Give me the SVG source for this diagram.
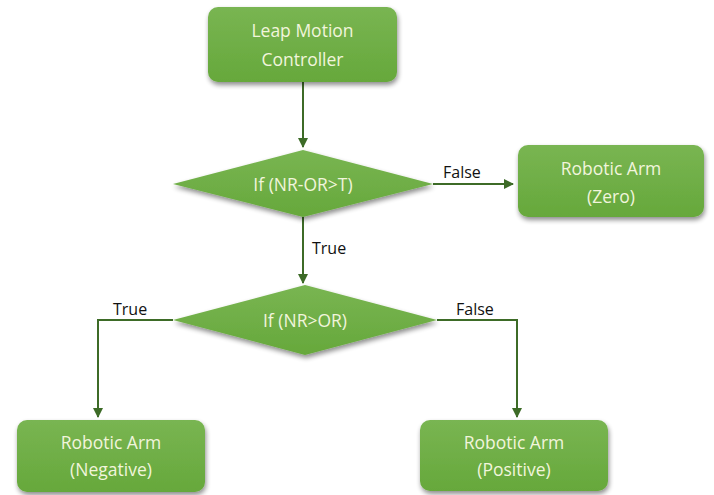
<svg xmlns="http://www.w3.org/2000/svg" width="714" height="495" viewBox="0 0 714 495">
  <defs>
    <linearGradient id="fillGreen" x1="0" y1="0" x2="0" y2="1">
      <stop offset="0" stop-color="#79b552"/>
      <stop offset="1" stop-color="#66a83b"/>
    </linearGradient>
    <filter id="shadow" x="-10%" y="-10%" width="125%" height="135%">
      <feGaussianBlur in="SourceAlpha" stdDeviation="2.5"/>
      <feOffset dx="1" dy="3" result="b"/>
      <feComponentTransfer><feFuncA type="linear" slope="0.45"/></feComponentTransfer>
      <feMerge><feMergeNode/><feMergeNode in="SourceGraphic"/></feMerge>
    </filter>
    <marker id="arrow" viewBox="0 0 10 10" refX="9" refY="5" markerWidth="10" markerHeight="10" markerUnits="userSpaceOnUse" orient="auto">
      <path d="M0,0 L10,5 L0,10 z" fill="#3d6b27"/>
    </marker>
  </defs>
  <style>
    .box { fill: url(#fillGreen); filter: url(#shadow); }
    .txt { font-family: "Open Sans", Lato, sans-serif; font-size: 17.5px; fill: #f1f5dc; text-anchor: middle; }
    .lbl { font-family: "Open Sans", Lato, sans-serif; font-size: 16px; fill: #111; }
    .wire { fill: none; stroke: #3d6b27; stroke-width: 2; }
  </style>
  <rect width="714" height="495" fill="#ffffff"/>

  <g id="connectors">
    <path class="wire" d="M303,82 L303,147" marker-end="url(#arrow)"/>
    <path class="wire" d="M433,184 L513,184" marker-end="url(#arrow)"/>
    <path class="wire" d="M303,217 L303,283" marker-end="url(#arrow)"/>
    <path class="wire" d="M173,320 L98,320 L98,417" marker-end="url(#arrow)"/>
    <path class="wire" d="M437,320 L517,320 L517,417" marker-end="url(#arrow)"/>
    <text class="lbl" x="443" y="178">False</text>
    <text class="lbl" x="312" y="254">True</text>
    <text class="lbl" x="113" y="315">True</text>
    <text class="lbl" x="456" y="315">False</text>
  </g>

  <g id="leap-motion">
    <rect class="box" x="208" y="7" width="189" height="75" rx="10"/>
    <text class="txt" x="302.5" y="37">Leap Motion</text>
    <text class="txt" x="302.5" y="66">Controller</text>
  </g>

  <g id="check-threshold">
    <polygon class="box" points="303,150 433,184 303,217 173,184"/>
    <text class="txt" x="303" y="191">If (NR-OR&gt;T)</text>
  </g>

  <g id="arm-zero">
    <rect class="box" x="518" y="145" width="186" height="72" rx="10"/>
    <text class="txt" x="611" y="175">Robotic Arm</text>
    <text class="txt" x="611" y="203">(Zero)</text>
  </g>

  <g id="check-direction">
    <polygon class="box" points="305,285 437,320 305,355 173,320"/>
    <text class="txt" x="305" y="327">If (NR&gt;OR)</text>
  </g>

  <g id="arm-negative">
    <rect class="box" x="17" y="420" width="188" height="72" rx="10"/>
    <text class="txt" x="111" y="449">Robotic Arm</text>
    <text class="txt" x="111" y="476">(Negative)</text>
  </g>

  <g id="arm-positive">
    <rect class="box" x="420" y="420" width="188" height="71" rx="10"/>
    <text class="txt" x="514" y="449">Robotic Arm</text>
    <text class="txt" x="514" y="476">(Positive)</text>
  </g>
</svg>
